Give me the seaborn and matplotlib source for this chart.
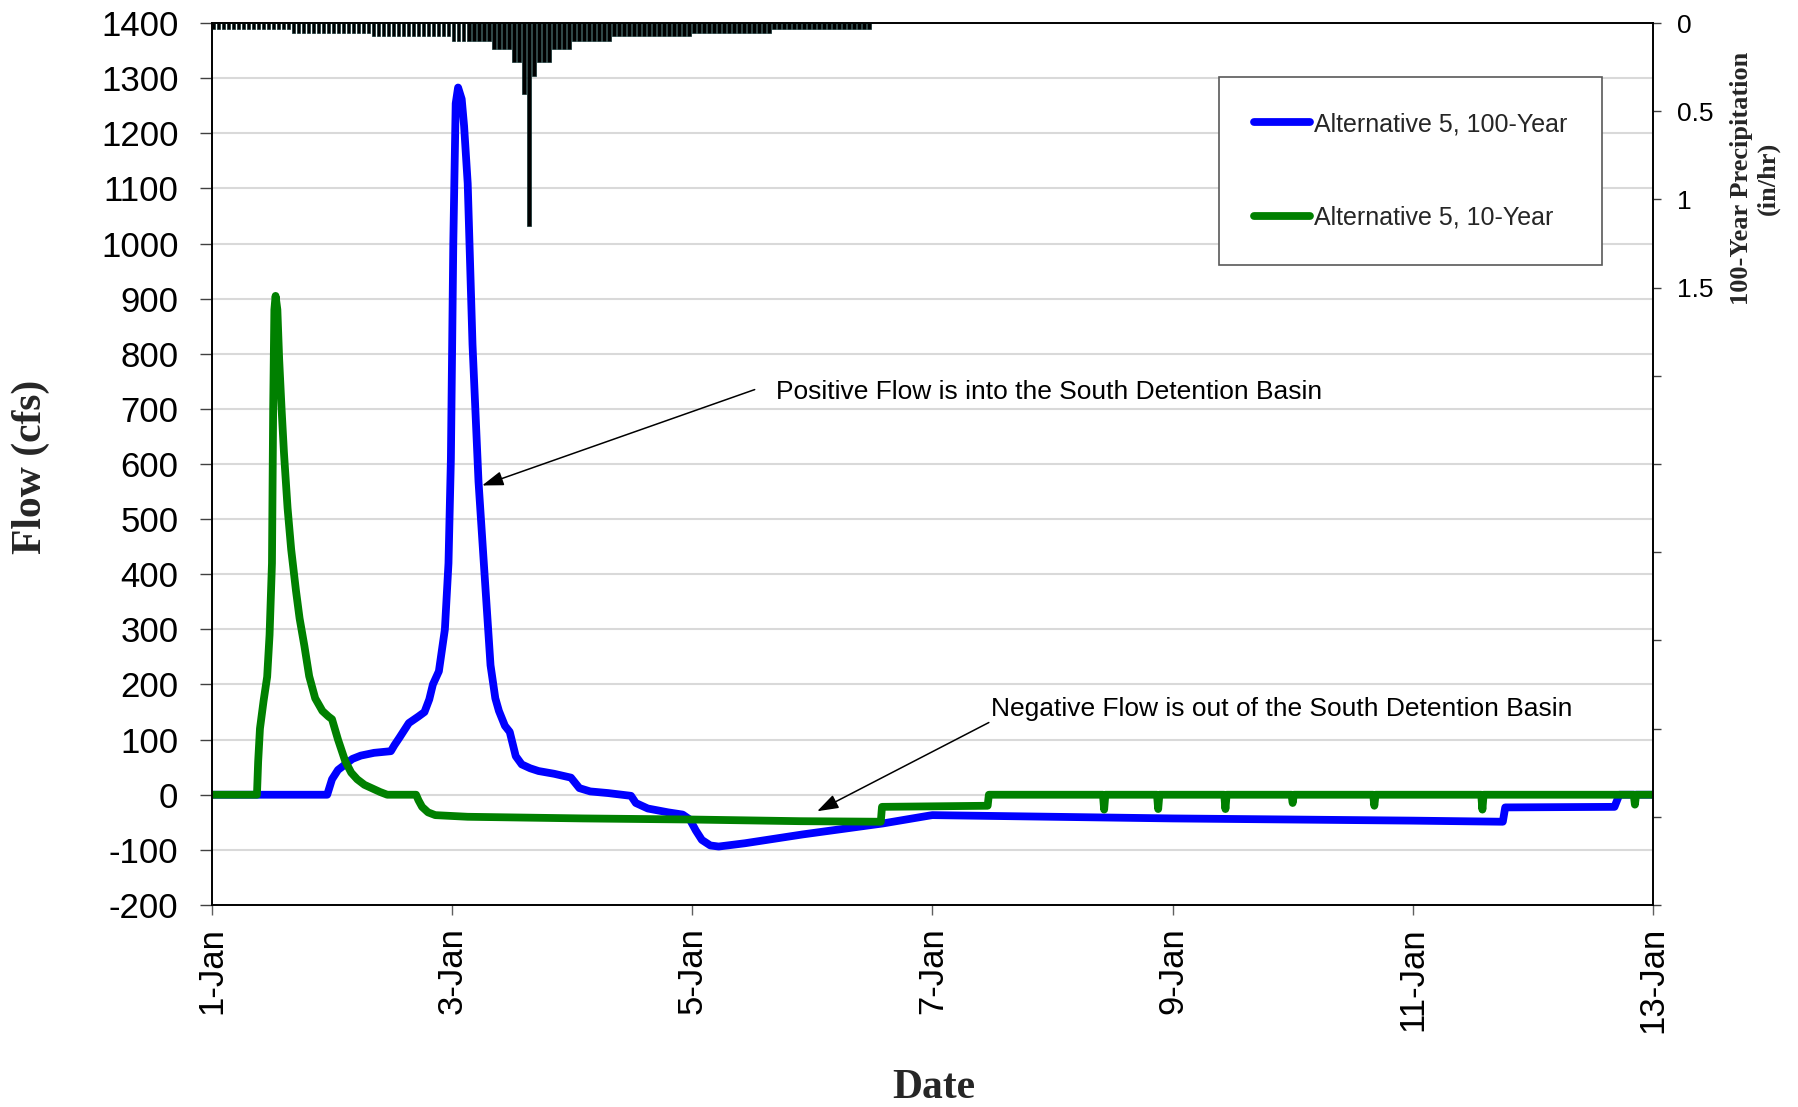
import matplotlib
matplotlib.use("Agg")
import matplotlib.pyplot as plt
import seaborn as sns
import pandas as pd
import numpy as np

# ---- data -------------------------------------------------------------
series_names = ["Alternative 5, 100-Year", "Alternative 5, 10-Year"]
series_colors = ["#0000FF", "#008000"]

# Alternative 5, 100-year storm: days since 1-Jan, flow (cfs)
days_100 = [0.00, 0.96, 1.00, 1.05, 1.11, 1.17, 1.24, 1.35, 1.49, 1.52, 1.56,
            1.64, 1.72, 1.77, 1.81, 1.84, 1.89, 1.94, 1.97, 1.99, 2.01, 2.03,
            2.05, 2.08, 2.10, 2.13, 2.17, 2.22, 2.27, 2.32, 2.36, 2.39, 2.44,
            2.48, 2.53, 2.58, 2.65, 2.72, 2.85, 2.99, 3.06, 3.15, 3.30, 3.49,
            3.53, 3.63, 3.80, 3.92, 3.98, 4.03, 4.08, 4.15, 4.22, 4.44, 4.92,
            5.59, 5.97, 6.00, 8.00, 10.00, 10.75, 10.77, 11.68, 11.72, 12.00]
flow_100 = [0, 0, 28, 45, 55, 65, 71, 76, 79, 90, 103,
            130, 142, 150, 173, 200, 224, 300, 420, 609, 1000, 1254,
            1283, 1262, 1213, 1109, 817, 568, 401, 235, 175, 152, 125,
            114, 70, 55, 48, 43, 38, 31, 12, 6, 3, -2,
            -15, -25, -32, -36, -45, -65, -82, -92, -94, -88, -72,
            -52, -38, -37, -43, -47, -49, -23, -22, 0, 0]

# Alternative 5, 10-year storm: days since 1-Jan, flow (cfs)
days_10 = [0.00, 0.375, 0.385, 0.40, 0.43, 0.46, 0.48, 0.50, 0.51, 0.52, 0.53,
           0.545, 0.56, 0.58, 0.60, 0.63, 0.66, 0.70, 0.73, 0.77, 0.81, 0.86,
           0.92, 0.97, 1.00, 1.05, 1.11, 1.16, 1.21, 1.27, 1.33, 1.40, 1.46,
           1.70, 1.72, 1.75, 1.80, 1.86, 2.13, 3.09, 4.00, 4.90, 5.57, 5.58,
           6.46, 6.47,
           7.42, 7.43, 7.44, 7.87, 7.88, 7.89, 8.43, 8.44, 8.45, 8.99, 9.00,
           9.01, 9.67, 9.68, 9.69, 10.57, 10.58, 10.59, 11.84, 11.85, 11.86,
           12.00]
flow_10 = [0, 0, 60, 120, 170, 214, 290, 420, 700, 880, 905,
           880, 790, 700, 620, 520, 445, 370, 320, 270, 215, 175,
           152, 142, 137, 100, 61, 40, 28, 18, 12, 5, 0,
           0, -10, -22, -32, -37, -40, -43, -45, -48, -49, -22,
           -20, 0,
           0, -27, 0, 0, -26, 0, 0, -26, 0, 0, -15,
           0, 0, -20, 0, 0, -27, 0, 0, -18, 0,
           0]

# 100-year hourly precipitation (in/hr), hours 0-131
precip_hours = list(range(132))
precip_inhr = [
    0.034, 0.034, 0.034, 0.034, 0.034, 0.034, 0.034, 0.034,
    0.034, 0.034, 0.034, 0.034, 0.034, 0.034, 0.034, 0.034,
    0.056, 0.056, 0.056, 0.056, 0.056, 0.056, 0.056, 0.056,
    0.056, 0.056, 0.056, 0.056, 0.056, 0.056, 0.056, 0.056,
    0.072, 0.072, 0.072, 0.072, 0.072, 0.072, 0.072, 0.072,
    0.072, 0.072, 0.072, 0.072, 0.072, 0.072, 0.072, 0.072,
    0.10, 0.10, 0.10, 0.10, 0.10, 0.10, 0.10, 0.10,
    0.15, 0.15, 0.15, 0.15,
    0.22, 0.22, 0.40, 1.15, 0.30, 0.22, 0.22, 0.22,
    0.15, 0.15, 0.15, 0.15,
    0.10, 0.10, 0.10, 0.10, 0.10, 0.10, 0.10, 0.10,
    0.072, 0.072, 0.072, 0.072, 0.072, 0.072, 0.072, 0.072,
    0.072, 0.072, 0.072, 0.072, 0.072, 0.072, 0.072, 0.072,
    0.056, 0.056, 0.056, 0.056, 0.056, 0.056, 0.056, 0.056,
    0.056, 0.056, 0.056, 0.056, 0.056, 0.056, 0.056, 0.056,
    0.034, 0.034, 0.034, 0.034, 0.034, 0.034, 0.034, 0.034,
    0.034, 0.034, 0.034, 0.034, 0.034, 0.034, 0.034, 0.034,
    0.034, 0.034, 0.034, 0.034,
]

x_tick_days = [0, 2, 4, 6, 8, 10, 12]
x_tick_labels = ["1-Jan", "3-Jan", "5-Jan", "7-Jan", "9-Jan", "11-Jan", "13-Jan"]
flow_ticks = list(range(-200, 1401, 100))
precip_ticks = [0, 0.5, 1, 1.5, 2, 2.5, 3, 3.5, 4, 4.5, 5]
precip_tick_labels = ["0", "0.5", "1", "1.5", "", "", "", "", "", "", ""]

# ---- figure -----------------------------------------------------------
sns.set_theme(style="white")
plt.rcParams["font.family"] = ["Liberation Sans", "DejaVu Sans"]
plt.rcParams["axes.unicode_minus"] = False

fig = plt.figure(figsize=(17.99, 11.07), dpi=100)
ax = fig.add_axes([0.1178, 0.1825, 0.801, 0.7967])

df = pd.concat([
    pd.DataFrame({"day": days_100, "flow": flow_100, "series": series_names[0]}),
    pd.DataFrame({"day": days_10, "flow": flow_10, "series": series_names[1]}),
], ignore_index=True)

sns.lineplot(data=df, x="day", y="flow", hue="series", hue_order=series_names,
             palette=series_colors, estimator=None, sort=False, lw=5.6, ax=ax)
for ln in ax.lines:
    ln.set_solid_capstyle("round")
    ln.set_solid_joinstyle("round")

ax.set_xlim(0, 12)
ax.set_ylim(-200, 1400)
ax.set_xticks(x_tick_days)
ax.set_xticklabels(x_tick_labels)
ax.set_yticks(flow_ticks)
ax.set_xlabel("")
ax.set_ylabel("")
ax.yaxis.grid(True, color="#d9d9d9", lw=1.5)
ax.xaxis.grid(False)
ax.set_axisbelow(True)
ax.tick_params(axis="y", left=True, length=8.6, width=1.0, color="#404040",
               labelsize=25, pad=15.5, labelcolor="black")
ax.tick_params(axis="x", bottom=True, length=7, width=1.0, color="#606060",
               labelsize=25, pad=9, labelrotation=90, labelcolor="black")
for sp in ax.spines.values():
    sp.set_color("black")
    sp.set_linewidth(1.2)

handles, labels = ax.get_legend_handles_labels()
for h in handles:
    h.set_linewidth(5.6)
    h.set_solid_capstyle("round")
leg = ax.legend(handles, labels, loc="upper left", bbox_to_anchor=(0.6988, 0.9388),
                borderaxespad=0, fontsize=18, frameon=True, fancybox=False,
                framealpha=1, edgecolor="#595959", borderpad=1.4,
                labelspacing=2.78, handlelength=2.25, handletextpad=0.15)
leg.get_frame().set_linewidth(1.2)

# annotations
ax.annotate("", xy=(2.25, 561), xytext=(4.52, 735),
            arrowprops=dict(arrowstyle="-|>,head_length=0.65,head_width=0.22",
                            color="black", lw=1.1, mutation_scale=20,
                            shrinkA=0, shrinkB=0), zorder=6)
ax.text(4.70, 731, "Positive Flow is into the South Detention Basin",
        fontsize=19, ha="left", va="center", color="black")
ax.annotate("", xy=(5.04, -30), xytext=(6.47, 131),
            arrowprops=dict(arrowstyle="-|>,head_length=0.65,head_width=0.22",
                            color="black", lw=1.1, mutation_scale=20,
                            shrinkA=0, shrinkB=0), zorder=6)
ax.text(6.49, 156, "Negative Flow is out of the South Detention Basin",
        fontsize=19, ha="left", va="center", color="black")

# precipitation hyetograph on the inverted right axis
ax2 = ax.twinx()
ax2.bar(np.array(precip_hours) / 24.0, precip_inhr, width=0.68 / 24.0, align="edge",
        color="black", edgecolor="#0d2e2e", linewidth=0.5)
ax2.set_ylim(5, 0)
ax2.set_yticks(precip_ticks)
ax2.set_yticklabels(precip_tick_labels)
ax2.grid(False)
ax2.tick_params(axis="y", right=True, length=5.8, width=1.0, color="#404040",
                labelsize=19, pad=11.5, labelcolor="black")
for sp in ax2.spines.values():
    sp.set_color("black")
    sp.set_linewidth(1.2)

# axis titles
serif = ["Liberation Serif", "DejaVu Serif"]
fig.text(31 / 1799, 1 - 467 / 1107, "Flow (cfs)", rotation=90, ha="center",
         va="center", fontsize=30, fontweight="bold", family=serif)
fig.text(934 / 1799, 1 - 1088 / 1107, "Date", ha="center", va="center",
         fontsize=30, fontweight="bold", family=serif)
fig.text(1755 / 1799, 1 - 178 / 1107, "100-Year Precipitation\n(in/hr)",
         rotation=90, ha="center", va="center", multialignment="center",
         fontsize=19, fontweight="bold", family=serif)

fig.savefig("out.png", dpi=100)
